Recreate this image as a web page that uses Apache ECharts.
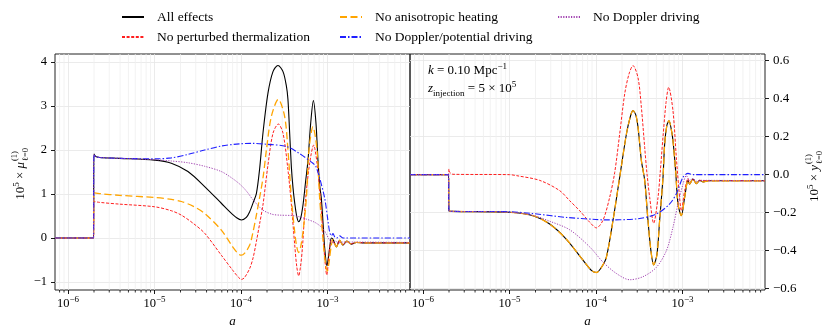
<!DOCTYPE html>
<html>
<head>
<meta charset="utf-8">
<script src="https://cdn.jsdelivr.net/npm/echarts@6/dist/echarts.min.js"></script>
<style>
  html, body { margin: 0; padding: 0; background: #fff; }
  #chart { width: 830px; height: 335px; }
</style>
</head>
<body>
<div id="chart"></div>
<script>
var muAllEffects = [[-6.15,0],[-5.705,0],[-5.700,1.91],[-5.680,1.85],[-5.634,1.83],[-5.402,1.81],[-4.998,1.77],[-4.805,1.70],[-4.613,1.51],[-4.420,1.17],[-4.227,0.79],[-4.131,0.60],[-4.050,0.46],[-3.995,0.41],[-3.938,0.47],[-3.899,0.60],[-3.860,0.80],[-3.822,1.01],[-3.784,1.58],[-3.746,2.38],[-3.688,3.29],[-3.630,3.78],[-3.572,3.92],[-3.514,3.78],[-3.475,3.45],[-3.457,3.15],[-3.437,2.38],[-3.417,1.60],[-3.399,1.15],[-3.379,0.80],[-3.356,0.50],[-3.333,0.37],[-3.310,0.45],[-3.283,0.75],[-3.252,1.30],[-3.225,1.77],[-3.194,2.61],[-3.163,3.12],[-3.133,2.61],[-3.110,1.77],[-3.090,1.20],[-3.071,0.90],[-3.050,0.30],[-3.032,-0.23],[-3.006,-0.63],[-2.990,-0.45],[-2.975,-0.23],[-2.955,0.00],[-2.936,-0.03],[-2.897,-0.20],[-2.859,-0.05],[-2.821,-0.16],[-2.775,-0.07],[-2.724,-0.14],[-2.666,-0.10],[-2.570,-0.11],[-2.046,-0.11]];
var muNoThermalization = [[-6.15,0],[-5.705,0],[-5.700,0.83],[-5.634,0.81],[-5.402,0.77],[-4.998,0.71],[-4.805,0.62],[-4.689,0.52],[-4.550,0.33],[-4.420,0.11],[-4.227,-0.39],[-4.096,-0.73],[-4.030,-0.89],[-3.995,-0.94],[-3.960,-0.90],[-3.899,-0.69],[-3.860,-0.45],[-3.822,-0.08],[-3.784,0.33],[-3.746,0.75],[-3.688,1.66],[-3.630,2.38],[-3.568,2.59],[-3.514,2.38],[-3.457,1.55],[-3.417,0.75],[-3.379,-0.15],[-3.355,-0.65],[-3.333,-0.86],[-3.312,-0.65],[-3.290,-0.23],[-3.252,0.90],[-3.206,1.70],[-3.160,2.11],[-3.121,1.70],[-3.082,0.90],[-3.040,-0.23],[-3.025,-0.60],[-3.009,-0.84],[-2.992,-0.60],[-2.975,-0.23],[-2.955,-0.05],[-2.936,-0.08],[-2.897,-0.19],[-2.859,-0.06],[-2.821,-0.15],[-2.775,-0.08],[-2.724,-0.13],[-2.666,-0.10],[-2.570,-0.11],[-2.046,-0.11]];
var muNoAnisotropic = [[-6.15,0],[-5.705,0],[-5.700,1.03],[-5.634,1.01],[-5.402,0.97],[-4.998,0.92],[-4.805,0.88],[-4.689,0.83],[-4.550,0.72],[-4.420,0.56],[-4.227,0.18],[-4.096,-0.20],[-4.030,-0.36],[-3.995,-0.39],[-3.960,-0.35],[-3.899,-0.16],[-3.865,0.10],[-3.822,0.52],[-3.746,1.36],[-3.706,2.00],[-3.649,2.76],[-3.568,3.15],[-3.495,2.76],[-3.457,2.00],[-3.417,0.90],[-3.379,0.14],[-3.355,-0.20],[-3.333,-0.33],[-3.310,-0.20],[-3.283,0.14],[-3.244,0.90],[-3.214,2.00],[-3.168,2.53],[-3.121,2.00],[-3.090,0.90],[-3.044,-0.20],[-3.020,-0.62],[-3.001,-0.75],[-2.985,-0.60],[-2.975,-0.45],[-2.955,-0.16],[-2.936,-0.03],[-2.897,-0.20],[-2.859,-0.05],[-2.821,-0.16],[-2.775,-0.07],[-2.724,-0.14],[-2.666,-0.10],[-2.570,-0.11],[-2.046,-0.11]];
var muNoDopplerPotential = [[-6.15,0],[-5.705,0],[-5.700,1.90],[-5.680,1.85],[-5.634,1.83],[-5.402,1.81],[-4.998,1.80],[-4.805,1.82],[-4.613,1.90],[-4.420,2.00],[-4.227,2.09],[-4.015,2.14],[-3.865,2.15],[-3.700,2.13],[-3.475,2.08],[-3.333,1.93],[-3.168,1.70],[-3.133,1.62],[-3.090,1.36],[-3.032,0.90],[-2.995,0.40],[-2.975,0.14],[-2.955,0.05],[-2.936,0.10],[-2.915,0.02],[-2.895,0.00],[-2.859,0.05],[-2.820,0.00],[-2.046,0.00]];
var muNoDoppler = [[-6.15,0],[-5.705,0],[-5.700,1.90],[-5.680,1.85],[-5.634,1.83],[-5.402,1.81],[-4.998,1.78],[-4.805,1.75],[-4.613,1.71],[-4.420,1.63],[-4.227,1.51],[-4.096,1.35],[-4.000,1.20],[-3.930,1.05],[-3.865,0.88],[-3.750,0.64],[-3.640,0.54],[-3.550,0.52],[-3.400,0.51],[-3.320,0.48],[-3.244,0.43],[-3.140,0.35],[-3.055,0.22],[-3.010,0.08],[-2.975,-0.05],[-2.945,-0.10],[-2.910,-0.07],[-2.870,-0.11],[-2.820,-0.09],[-2.046,-0.10]];

var yAllEffects = [[-6.15,0],[-5.705,0],[-5.700,-0.190],[-5.672,-0.193],[-4.998,-0.198],[-4.728,-0.216],[-4.535,-0.260],[-4.342,-0.340],[-4.150,-0.450],[-4.050,-0.505],[-3.995,-0.515],[-3.940,-0.490],[-3.880,-0.435],[-3.803,-0.240],[-3.726,-0.014],[-3.648,0.214],[-3.600,0.310],[-3.572,0.337],[-3.540,0.315],[-3.514,0.250],[-3.475,0.074],[-3.437,-0.030],[-3.399,-0.240],[-3.365,-0.400],[-3.333,-0.475],[-3.295,-0.420],[-3.264,-0.240],[-3.225,-0.014],[-3.206,0.160],[-3.180,0.260],[-3.156,0.284],[-3.130,0.240],[-3.110,0.180],[-3.079,0.020],[-3.052,-0.154],[-3.013,-0.216],[-2.975,-0.120],[-2.936,-0.030],[-2.918,-0.050],[-2.879,-0.023],[-2.839,-0.047],[-2.801,-0.030],[-2.760,-0.038],[-2.700,-0.032],[-2.046,-0.032]];
var yNoThermalization = [[-6.15,0],[-5.705,0],[-5.700,0.030],[-5.690,0.012],[-5.653,0.002],[-4.998,0.000],[-4.920,-0.005],[-4.651,-0.030],[-4.420,-0.084],[-4.304,-0.137],[-4.188,-0.190],[-4.073,-0.250],[-3.995,-0.280],[-3.919,-0.240],[-3.842,-0.120],[-3.784,0.010],[-3.726,0.214],[-3.668,0.425],[-3.618,0.530],[-3.572,0.574],[-3.514,0.510],[-3.475,0.354],[-3.437,0.144],[-3.410,0.004],[-3.379,-0.120],[-3.333,-0.256],[-3.283,-0.120],[-3.256,0.020],[-3.225,0.200],[-3.190,0.380],[-3.160,0.460],[-3.110,0.337],[-3.071,0.090],[-3.040,-0.084],[-3.013,-0.190],[-2.975,-0.084],[-2.936,-0.020],[-2.918,-0.045],[-2.879,-0.025],[-2.839,-0.045],[-2.801,-0.030],[-2.700,-0.032],[-2.046,-0.032]];
var yNoAnisotropic = yAllEffects; // the two curves coincide in this panel
var yNoDopplerPotential = [[-6.15,0],[-5.705,0],[-5.700,-0.190],[-5.672,-0.193],[-4.998,-0.195],[-4.728,-0.205],[-4.342,-0.225],[-4.000,-0.236],[-3.919,-0.238],[-3.533,-0.233],[-3.302,-0.207],[-3.148,-0.154],[-3.071,-0.100],[-2.994,-0.014],[-2.936,0.007],[-2.879,0.000],[-2.046,0.000]];
var yNoDoppler = [[-6.15,0],[-5.705,0],[-5.700,-0.190],[-5.672,-0.193],[-4.998,-0.198],[-4.728,-0.214],[-4.535,-0.245],[-4.304,-0.290],[-4.073,-0.380],[-3.919,-0.460],[-3.764,-0.520],[-3.610,-0.553],[-3.457,-0.537],[-3.302,-0.488],[-3.186,-0.400],[-3.110,-0.277],[-3.052,-0.154],[-2.994,-0.050],[-2.955,-0.005],[-2.918,-0.030],[-2.879,-0.020],[-2.839,-0.035],[-2.780,-0.030],[-2.046,-0.032]];

var xTicks = [1e-6, 1e-5, 1e-4, 1e-3];
var muTicks = [-1, 0, 1, 2, 3, 4];
var yTicks = [-0.6, -0.4, -0.2, 0, 0.2, 0.4, 0.6];
var minorMultipliers = [2, 3, 4, 5, 6, 7, 8, 9];

var aMin = Math.pow(10, -6.15), aMax = Math.pow(10, -2.046);
var muMin = -1.18, muMax = 4.18;
var yMin = -0.607, yMax = 0.635;
var FONT = 'Liberation Serif';

var minorA = [];
xTicks.concat([1e-7, 1e-2]).forEach(function (d) {
  minorMultipliers.forEach(function (m) {
    var v = m * d;
    if (v > aMin && v < aMax) minorA.push(v);
  });
});

var looks = {
  'All effects':                  { color: '#000000', width: 1.1, type: 'solid', z: 3 },
  'No perturbed thermalization':  { color: '#ff1f1f', width: 1.0, type: [3, 1.6], z: 4 },
  'No anisotropic heating':       { color: '#ffa500', width: 1.3, type: [7, 3.5], z: 5 },
  'No Doppler/potential driving': { color: '#1f1fff', width: 1.1, type: [6, 2, 1.5, 2], z: 6 },
  'No Doppler driving':           { color: '#a040b0', width: 1.0, type: [1.2, 1.4], z: 7 }
};

function lineSeries(name, pts, idx) {
  var s = looks[name];
  return {
    name: name, type: 'line', xAxisIndex: idx, yAxisIndex: idx, z: s.z,
    data: pts.map(function (p) { return [Math.pow(10, p[0]), p[1]]; }),
    showSymbol: false, symbol: 'none', smooth: 0.3,
    lineStyle: { color: s.color, width: s.width, type: s.type },
    itemStyle: { color: s.color }
  };
}

function minorSeries(idx, lo, hi) {
  return {
    type: 'custom', xAxisIndex: idx, yAxisIndex: idx, silent: true, z: 1, clip: false,
    data: minorA.map(function (v) { return [v, lo]; }),
    renderItem: function (params, api) {
      var b = api.coord([api.value(0), lo]);
      var t = api.coord([api.value(0), hi]);
      return { type: 'group', children: [
        { type: 'line', shape: { x1: b[0], y1: t[1], x2: b[0], y2: b[1] }, style: { stroke: '#efefef', lineWidth: 0.8 } },
        { type: 'line', shape: { x1: b[0], y1: b[1], x2: b[0], y2: b[1] + 2.5 }, style: { stroke: '#000', lineWidth: 0.8 } }
      ] };
    }
  };
}

var powRich = {
  b: { fontFamily: FONT, fontSize: 12.5, color: '#000', lineHeight: 18 },
  s: { fontFamily: FONT, fontSize: 9, color: '#000', lineHeight: 9, verticalAlign: 'top' }
};

function xAxis(idx) {
  return {
    type: 'log', logBase: 10, gridIndex: idx, min: aMin, max: aMax,
    axisLine: { show: false, onZero: false },
    axisTick: { show: true, length: 4, customValues: xTicks, lineStyle: { color: '#000', width: 0.9 } },
    axisLabel: {
      customValues: xTicks, margin: 5, rich: powRich,
      formatter: function (v) { return '{b|10}{s|−' + Math.round(-Math.log10(v)) + '}'; }
    },
    splitLine: { show: true, lineStyle: { color: '#e6e6e6', width: 0.8 } },
    name: 'a', nameLocation: 'middle', nameGap: 25,
    nameTextStyle: { fontFamily: FONT, fontStyle: 'italic', fontSize: 13, color: '#000' }
  };
}

function minus(s) { return s.replace('-', '−'); }

// rotated axis title: 10^5 x sym^(1)_(l=0)
function yLabel(x, y, sym) {
  return {
    type: 'group', x: x, y: y, rotation: Math.PI / 2, z: 10,
    children: [
      { type: 'text', x: 0, y: 0, style: {
          text: '10{s|5} × {i|' + sym + '}', fontFamily: FONT, fontSize: 13, fill: '#000',
          align: 'right', verticalAlign: 'middle',
          rich: {
            i: { fontFamily: FONT, fontSize: 13, fontStyle: 'italic', lineHeight: 18 },
            s: { fontFamily: FONT, fontSize: 9, lineHeight: 9, verticalAlign: 'top' }
          } } },
      { type: 'text', x: 1, y: -6, style: { text: '(1)', fontFamily: FONT, fontSize: 8.5, fill: '#000', align: 'left', verticalAlign: 'middle' } },
      { type: 'text', x: 1, y: 5, style: { text: 'ℓ=0', fontFamily: FONT, fontSize: 8.5, fill: '#000', align: 'left', verticalAlign: 'middle' } }
    ]
  };
}

var option = {
  animation: false,
  backgroundColor: '#fff',
  grid: [
    { left: 55, top: 54, width: 355, height: 236, show: true, borderColor: '#222', borderWidth: 1 },
    { left: 410, top: 54, width: 355, height: 236, show: true, borderColor: '#222', borderWidth: 1 }
  ],
  legend: [
    { data: ['All effects', 'No perturbed thermalization'], left: 121, top: 10 },
    { data: ['No anisotropic heating', 'No Doppler/potential driving'], left: 339, top: 10 },
    { data: ['No Doppler driving'], left: 557, top: 10 }
  ].map(function (l) {
    l.orient = 'vertical';
    l.padding = 0;
    l.itemWidth = 22; l.itemHeight = 12; l.itemGap = 6;
    l.itemStyle = { opacity: 0 };
    l.textStyle = { fontFamily: FONT, fontSize: 13.5, color: '#000', padding: [0, 0, 0, 8] };
    l.selectedMode = false;
    return l;
  }),
  xAxis: [xAxis(0), xAxis(1)],
  yAxis: [
    {
      type: 'value', gridIndex: 0, min: muMin, max: muMax,
      axisLine: { show: false, onZero: false },
      axisTick: { show: true, length: 4, customValues: muTicks, lineStyle: { color: '#000', width: 0.9 } },
      axisLabel: { customValues: muTicks, margin: 8, fontFamily: FONT, fontSize: 12.5, color: '#000',
        formatter: function (v) { return minus(String(v)); } },
      splitLine: { show: true, lineStyle: { color: '#e6e6e6', width: 0.8 } }
    },
    {
      type: 'value', gridIndex: 1, position: 'right', min: yMin, max: yMax,
      axisLine: { show: false, onZero: false },
      axisTick: { show: true, length: 4, customValues: yTicks, lineStyle: { color: '#000', width: 0.9 } },
      axisLabel: { customValues: yTicks, margin: 8, fontFamily: FONT, fontSize: 13, color: '#000',
        formatter: function (v) { return minus((Math.abs(v) < 1e-9 ? 0 : v).toFixed(1)); } },
      splitLine: { show: true, lineStyle: { color: '#e6e6e6', width: 0.8 } }
    }
  ],
  graphic: [
    {
      type: 'text', x: 428, y: 62, z: 10,
      style: {
        text: '{i|k} = 0.10 Mpc{s|−1}\n{i|z}{u|injection} = 5 × 10{s|5}',
        fontFamily: FONT, fontSize: 13, fill: '#000',
        rich: {
          i: { fontFamily: FONT, fontSize: 13, fontStyle: 'italic', lineHeight: 18 },
          s: { fontFamily: FONT, fontSize: 9, lineHeight: 9, verticalAlign: 'top' },
          u: { fontFamily: FONT, fontSize: 9, lineHeight: 9, verticalAlign: 'bottom' }
        }
      }
    },
    yLabel(21, 162, 'μ'),
    yLabel(815, 165, 'y')
  ],
  series: [
    minorSeries(0, muMin, muMax),
    minorSeries(1, yMin, yMax),
    lineSeries('All effects', muAllEffects, 0),
    lineSeries('No perturbed thermalization', muNoThermalization, 0),
    lineSeries('No anisotropic heating', muNoAnisotropic, 0),
    lineSeries('No Doppler/potential driving', muNoDopplerPotential, 0),
    lineSeries('No Doppler driving', muNoDoppler, 0),
    lineSeries('All effects', yAllEffects, 1),
    lineSeries('No perturbed thermalization', yNoThermalization, 1),
    lineSeries('No anisotropic heating', yNoAnisotropic, 1),
    lineSeries('No Doppler/potential driving', yNoDopplerPotential, 1),
    lineSeries('No Doppler driving', yNoDoppler, 1)
  ]
};

var chart = echarts.init(document.getElementById('chart'));
chart.setOption(option);
</script>
</body>
</html>
